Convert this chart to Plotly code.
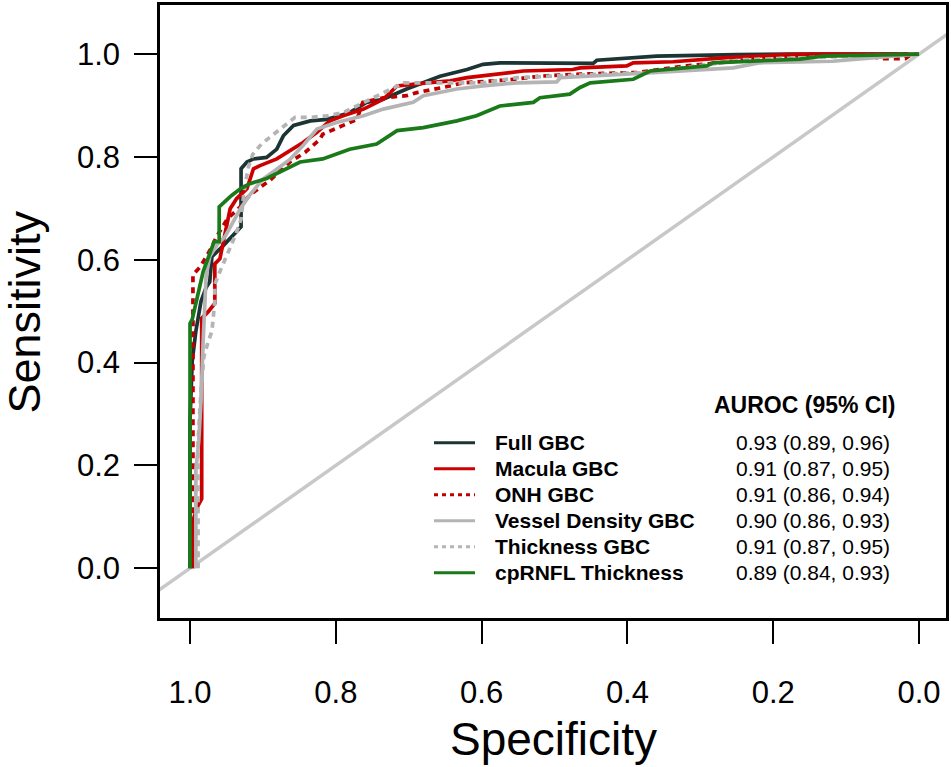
import plotly.graph_objects as go

# ---------------- data (specificity, sensitivity) ----------------
full_spec = [1.0, 1.0, 0.997, 0.992, 0.985, 0.978, 0.973, 0.970, 0.956, 0.940, 0.930, 0.930, 0.922, 0.913, 0.895,
             0.881, 0.872, 0.858, 0.835, 0.812, 0.781, 0.758, 0.735, 0.703, 0.657, 0.620, 0.598, 0.575, 0.447,
             0.442, 0.390, 0.360, 0.250, 0.180, 0.0]
full_sens = [0.0, 0.286, 0.403, 0.461, 0.519, 0.546, 0.557, 0.606, 0.625, 0.650, 0.664, 0.777, 0.790, 0.796, 0.799,
             0.815, 0.841, 0.861, 0.870, 0.873, 0.886, 0.906, 0.912, 0.932, 0.957, 0.970, 0.980, 0.983, 0.982,
             0.988, 0.993, 0.996, 0.999, 1.0, 1.0]

macula_spec = [0.996, 0.996, 0.989, 0.984, 0.984, 0.975, 0.966, 0.966, 0.959, 0.952, 0.945, 0.936, 0.922, 0.913,
               0.904, 0.881, 0.867, 0.845, 0.826, 0.808, 0.790, 0.762, 0.735, 0.716, 0.675, 0.643, 0.620, 0.575,
               0.543, 0.475, 0.465, 0.401, 0.392, 0.337, 0.264, 0.181, 0.140, 0.0]
macula_sens = [0.0, 0.093, 0.122, 0.135, 0.486, 0.499, 0.515, 0.592, 0.602, 0.654, 0.699, 0.719, 0.738, 0.777,
               0.783, 0.796, 0.809, 0.828, 0.848, 0.870, 0.880, 0.893, 0.912, 0.938, 0.944, 0.948, 0.954, 0.961,
               0.967, 0.970, 0.973, 0.977, 0.983, 0.985, 0.993, 0.999, 1.0, 1.0]

onh_spec = [0.996, 0.996, 0.986, 0.978, 0.970, 0.964, 0.956, 0.949, 0.931, 0.918, 0.890, 0.863, 0.842, 0.822,
            0.818, 0.771, 0.763, 0.735, 0.703, 0.689, 0.653, 0.626, 0.561, 0.520, 0.465, 0.387, 0.319, 0.255,
            0.181, 0.072, 0.053, 0.019, 0.010, 0.0]
onh_sens = [0.0, 0.571, 0.586, 0.606, 0.625, 0.644, 0.664, 0.679, 0.703, 0.726, 0.755, 0.790, 0.809, 0.834,
            0.844, 0.873, 0.906, 0.915, 0.919, 0.925, 0.935, 0.944, 0.950, 0.957, 0.961, 0.964, 0.977, 0.986,
            0.996, 0.998, 0.991, 0.991, 1.0, 1.0]

vessel_spec = [0.992, 0.992, 0.988, 0.985, 0.982, 0.979, 0.978, 0.973, 0.963, 0.952, 0.941, 0.931, 0.918, 0.900,
               0.883, 0.863, 0.845, 0.826, 0.799, 0.762, 0.735, 0.694, 0.680, 0.634, 0.598, 0.552, 0.497, 0.492,
               0.365, 0.300, 0.255, 0.218, 0.118, 0.077, 0.026, 0.0]
vessel_sens = [0.0, 0.190, 0.248, 0.325, 0.441, 0.519, 0.567, 0.606, 0.629, 0.645, 0.673, 0.699, 0.726, 0.757,
               0.774, 0.795, 0.822, 0.854, 0.867, 0.880, 0.893, 0.906, 0.919, 0.932, 0.938, 0.944, 0.946, 0.954,
               0.964, 0.970, 0.973, 0.983, 0.986, 0.991, 0.996, 1.0]

thick_spec = [0.989, 0.989, 0.985, 0.981, 0.975, 0.970, 0.966, 0.966, 0.959, 0.948, 0.937, 0.930, 0.926, 0.920,
              0.914, 0.902, 0.888, 0.872, 0.856, 0.833, 0.812, 0.790, 0.735, 0.707, 0.598, 0.552, 0.506, 0.438,
              0.374, 0.241, 0.118, 0.0]
thick_sens = [0.0, 0.248, 0.344, 0.412, 0.441, 0.461, 0.519, 0.552, 0.577, 0.615, 0.650, 0.679, 0.732, 0.780,
              0.805, 0.825, 0.841, 0.859, 0.877, 0.877, 0.880, 0.886, 0.925, 0.944, 0.944, 0.954, 0.957, 0.960,
              0.964, 0.989, 0.995, 1.0]

rnfl_spec = [1.0, 1.0, 0.997, 0.990, 0.982, 0.967, 0.960, 0.960, 0.943, 0.931, 0.918, 0.895, 0.867, 0.849, 0.818,
             0.781, 0.744, 0.716, 0.680, 0.634, 0.607, 0.575, 0.529, 0.520, 0.479, 0.465, 0.451, 0.392, 0.369,
             0.291, 0.283, 0.163, 0.132, 0.036, 0.0]
rnfl_sens = [0.0, 0.476, 0.484, 0.524, 0.577, 0.635, 0.635, 0.703, 0.725, 0.738, 0.748, 0.758, 0.778, 0.790, 0.796,
             0.815, 0.825, 0.851, 0.857, 0.870, 0.880, 0.899, 0.906, 0.915, 0.922, 0.935, 0.944, 0.951, 0.967,
             0.977, 0.983, 0.990, 0.996, 1.0, 1.0]

series_names = ["Full GBC", "Macula GBC", "ONH GBC", "Vessel Density GBC", "Thickness GBC", "cpRNFL Thickness"]
auroc_labels = ["0.93 (0.89, 0.96)", "0.91 (0.87, 0.95)", "0.91 (0.86, 0.94)",
                "0.90 (0.86, 0.93)", "0.91 (0.87, 0.95)", "0.89 (0.84, 0.93)"]
legend_header = "AUROC (95% CI)"

diag_spec = [1.2, -0.2]
diag_sens = [-0.2, 1.2]

x_ticks = [1.0, 0.8, 0.6, 0.4, 0.2, 0.0]
y_ticks = [0.0, 0.2, 0.4, 0.6, 0.8, 1.0]

# ---------------- styles ----------------
colors = ["#1c3434", "#cc0000", "#c00000", "#b4b4b4", "#b4b4b4", "#1a7a1a"]
dashes = ["solid", "solid", "6px,5px", "solid", "6px,5px", "solid"]
FONT = "Liberation Sans, Arial, Helvetica, sans-serif"

W, H = 951, 767
L, R, T, B = 160, 5, 2, 149
PW, PH = W - L - R, H - T - B


def xp(px):
    return (px - L) / PW


def yp(py):
    return (H - B - py) / PH


fig = go.Figure()
fig.add_trace(go.Scatter(x=diag_spec, y=diag_sens, mode="lines",
                         line=dict(color="#c8c8c8", width=3.5), showlegend=False, hoverinfo="skip"))

all_spec = [full_spec, macula_spec, onh_spec, vessel_spec, thick_spec, rnfl_spec]
all_sens = [full_sens, macula_sens, onh_sens, vessel_sens, thick_sens, rnfl_sens]
for name, xs, ys, c, d in zip(series_names, all_spec, all_sens, colors, dashes):
    fig.add_trace(go.Scatter(x=xs, y=ys, mode="lines", name=name,
                             line=dict(color=c, width=3.7, dash=d), showlegend=False))

# ---------------- custom legend ----------------
shapes = []
annotations = []
row_y0, row_dy = 442, 26.1
for i, (name, lab) in enumerate(zip(series_names, auroc_labels)):
    py = row_y0 + i * row_dy
    shapes.append(dict(type="line", xref="paper", yref="paper", x0=xp(434), x1=xp(475), y0=yp(py), y1=yp(py),
                       line=dict(color=colors[i], width=3, dash=dashes[i] if dashes[i] == "solid" else "4px,4px")))
    annotations.append(dict(xref="paper", yref="paper", x=xp(493), y=yp(py), text="<b>%s</b>" % name,
                            showarrow=False, xanchor="left", yanchor="middle",
                            font=dict(family=FONT, size=21, color="black")))
    annotations.append(dict(xref="paper", yref="paper", x=xp(892), y=yp(py), text=lab,
                            showarrow=False, xanchor="right", yanchor="middle",
                            font=dict(family=FONT, size=21, color="black")))
annotations.append(dict(xref="paper", yref="paper", x=xp(897), y=yp(404), text="<b>%s</b>" % legend_header,
                        showarrow=False, xanchor="right", yanchor="middle",
                        font=dict(family=FONT, size=23, color="black")))
# axis titles
annotations.append(dict(xref="paper", yref="paper", x=xp(553), y=yp(740), text="Specificity",
                        showarrow=False, xanchor="center", yanchor="middle",
                        font=dict(family=FONT, size=46, color="black")))
annotations.append(dict(xref="paper", yref="paper", x=xp(24), y=yp(311), text="Sensitivity", textangle=-90,
                        showarrow=False, xanchor="center", yanchor="middle",
                        font=dict(family=FONT, size=45, color="black")))

fig.update_layout(
    width=W, height=H,
    margin=dict(l=L, r=R, t=T, b=B),
    paper_bgcolor="white", plot_bgcolor="white",
    shapes=shapes, annotations=annotations,
    showlegend=False,
    font=dict(family=FONT, color="black"),
)
fig.update_xaxes(range=[1.0412, -0.037], tickvals=x_ticks, ticktext=["%.1f" % v for v in x_ticks],
                 showgrid=False, zeroline=False, showline=True, linecolor="black", linewidth=2.5, mirror=True,
                 ticks="outside", ticklen=23, tickwidth=1.5, tickcolor="black",
                 tickfont=dict(family=FONT, size=31, color="black"), ticklabelstandoff=22)
fig.update_yaxes(range=[-0.0968, 1.0954], tickvals=y_ticks, ticktext=["%.1f" % v for v in y_ticks],
                 showgrid=False, zeroline=False, showline=True, linecolor="black", linewidth=2.5, mirror=True,
                 ticks="outside", ticklen=23, tickwidth=1.5, tickcolor="black",
                 tickfont=dict(family=FONT, size=31, color="black"), ticklabelstandoff=8)

fig.write_html("out.html", config={"displayModeBar": False},
               post_script="document.body.style.margin='0';document.body.style.overflow='hidden';")
